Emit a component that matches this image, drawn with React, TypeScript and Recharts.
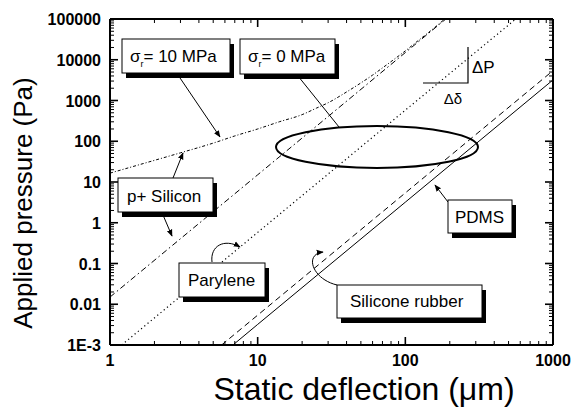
import { LineChart, Line, XAxis, YAxis } from 'recharts'

// axis ticks
const xMajor = [1, 10, 100, 1000]
const yMajor = [0.001, 0.01, 0.1, 1, 10, 100, 1000, 10000, 100000]
const yTickLabels = ['1E-3', '0.01', '0.1', '1', '10', '100', '1000', '10000', '100000']

// p+ silicon, residual stress 10 MPa
const sig10Defl = [1, 2, 3, 5, 7, 10, 14, 20, 25, 30, 40, 50, 60, 70, 85, 100, 120, 150, 185]
const sig10Press = [16.5, 34, 52, 90, 135, 200, 300, 450, 650, 880, 1620, 2700, 4200, 6300, 10600, 16500, 28000, 53000, 100000]
// p+ silicon, residual stress 0 MPa
const sig0Defl = [1, 10, 100, 188]
const sig0Press = [0.015, 15, 15000, 100000]
// parylene
const paryDefl = [1.2, 10, 100, 560]
const paryPress = [0.001, 0.58, 580, 100000]
// silicone rubber
const rubberDefl = [5.7, 10, 100, 1000]
const rubberPress = [0.001, 0.0054, 5.4, 5400]
// PDMS
const pdmsDefl = [6.8, 10, 100, 1000]
const pdmsPress = [0.001, 0.0032, 3.2, 3200]

const pairs = (d: number[], p: number[]) => d.map((v, i) => ({ d: v, p: p[i] }))

const withMinors = (majors: number[]) => {
  const out: number[] = []
  majors.slice(0, -1).forEach((m) => {
    for (let k = 1; k < 10; k++) out.push(+(m * k).toPrecision(6))
  })
  out.push(majors[majors.length - 1])
  return out
}
const xTicks = withMinors(xMajor)
const yTicks = withMinors(yMajor)

const isMajor = (v: number) => Math.abs(Math.log10(v) - Math.round(Math.log10(v))) < 1e-6
const yLabel = (v: number) => yTickLabels[Math.round(Math.log10(v)) + 3]

const BottomTick = (props: any) => {
  const { x, y, payload } = props
  const major = isMajor(payload.value)
  return (
    <g>
      <line x1={x} x2={x} y1={y} y2={y - (major ? 8 : 4)} stroke="#000" strokeWidth={major ? 1.6 : 1} />
      {major && (
        <text x={x} y={y + 21} textAnchor="middle" fontSize={16} fontWeight="bold" fill="#000">
          {payload.value}
        </text>
      )}
    </g>
  )
}

const TopTick = (props: any) => {
  const { x, y, payload } = props
  const major = isMajor(payload.value)
  return <line x1={x} x2={x} y1={y} y2={y + (major ? 8 : 4)} stroke="#000" strokeWidth={major ? 1.6 : 1} />
}

const LeftTick = (props: any) => {
  const { x, y, payload } = props
  const major = isMajor(payload.value)
  return (
    <g>
      <line x1={x} x2={x + (major ? 8 : 4)} y1={y} y2={y} stroke="#000" strokeWidth={major ? 1.6 : 1} />
      {major && (
        <text x={x - 9} y={y + 6} textAnchor="end" fontSize={16} fontWeight="bold" fill="#000">
          {yLabel(payload.value)}
        </text>
      )}
    </g>
  )
}

const RightTick = (props: any) => {
  const { x, y, payload } = props
  const major = isMajor(payload.value)
  return <line x1={x} x2={x - (major ? 8 : 4)} y1={y} y2={y} stroke="#000" strokeWidth={major ? 1.6 : 1} />
}

const Box = ({ x, y, w, h }: { x: number; y: number; w: number; h: number }) => (
  <g>
    <rect x={x + 4} y={y + 5} width={w} height={h} fill="#000" />
    <rect x={x} y={y} width={w} height={h} fill="#fff" stroke="#000" strokeWidth={1} />
  </g>
)

const axisLine = { stroke: '#000', strokeWidth: 2 }

export default function App() {
  return (
    <div
      style={{
        position: 'absolute',
        left: 0,
        top: 0,
        width: 574,
        height: 408,
        background: '#fff',
        fontFamily: '"Liberation Sans", Arial, sans-serif'
      }}
    >
      <LineChart width={574} height={408} margin={{ top: 18, right: 16, bottom: 33, left: 50 }}>
        <XAxis
          xAxisId="bottom"
          dataKey="d"
          type="number"
          scale="log"
          domain={[1, 1000]}
          allowDataOverflow
          ticks={xTicks}
          interval={0}
          tick={<BottomTick />}
          tickLine={false}
          tickSize={0}
          tickMargin={0}
          axisLine={axisLine}
          height={30}
        />
        <XAxis
          xAxisId="top"
          orientation="top"
          dataKey="d"
          type="number"
          scale="log"
          domain={[1, 1000]}
          allowDataOverflow
          ticks={xTicks}
          interval={0}
          tick={<TopTick />}
          tickLine={false}
          tickSize={0}
          tickMargin={0}
          axisLine={axisLine}
          height={1}
        />
        <YAxis
          yAxisId="left"
          type="number"
          scale="log"
          domain={[0.001, 100000]}
          allowDataOverflow
          ticks={yTicks}
          interval={0}
          tick={<LeftTick />}
          tickLine={false}
          tickSize={0}
          tickMargin={0}
          axisLine={axisLine}
          width={60}
        />
        <YAxis
          yAxisId="right"
          orientation="right"
          type="number"
          scale="log"
          domain={[0.001, 100000]}
          allowDataOverflow
          ticks={yTicks}
          interval={0}
          tick={<RightTick />}
          tickLine={false}
          tickSize={0}
          tickMargin={0}
          axisLine={axisLine}
          width={5}
        />
        <Line xAxisId="bottom" yAxisId="left" data={pairs(sig10Defl, sig10Press)} dataKey="p" type="monotone"
          stroke="#000" strokeWidth={1} strokeDasharray="3 2 1 2" dot={false} isAnimationActive={false} />
        <Line xAxisId="bottom" yAxisId="left" data={pairs(sig0Defl, sig0Press)} dataKey="p" type="linear"
          stroke="#000" strokeWidth={1} strokeDasharray="6 3 1.5 3" dot={false} isAnimationActive={false} />
        <Line xAxisId="bottom" yAxisId="left" data={pairs(paryDefl, paryPress)} dataKey="p" type="linear"
          stroke="#000" strokeWidth={1.2} strokeDasharray="1.2 3" dot={false} isAnimationActive={false} />
        <Line xAxisId="bottom" yAxisId="left" data={pairs(rubberDefl, rubberPress)} dataKey="p" type="linear"
          stroke="#000" strokeWidth={1} strokeDasharray="6 4" dot={false} isAnimationActive={false} />
        <Line xAxisId="bottom" yAxisId="left" data={pairs(pdmsDefl, pdmsPress)} dataKey="p" type="linear"
          stroke="#000" strokeWidth={1} dot={false} isAnimationActive={false} />
      </LineChart>

      <svg width={574} height={408} style={{ position: 'absolute', left: 0, top: 0, pointerEvents: 'none' }}>
        <defs>
          <marker id="ah" viewBox="0 0 10 10" refX="9" refY="5" markerWidth="7" markerHeight="7" orient="auto-start-reverse">
            <path d="M0,1 L10,5 L0,9 z" fill="#000" />
          </marker>
        </defs>

        {/* axis titles */}
        <text x={364} y={400} textAnchor="middle" fontSize={32} fill="#000">
          Static deflection (μm)
        </text>
        <text x={0} y={0} transform="translate(32,203) rotate(-90)" textAnchor="middle" fontSize={26} fill="#000">
          Applied pressure (Pa)
        </text>

        {/* highlighted region */}
        <ellipse cx={377} cy={147} rx={101} ry={21} fill="none" stroke="#000" strokeWidth={2} />

        {/* slope triangle */}
        <path d="M423,83 L468,83 L468,47" fill="none" stroke="#000" strokeWidth={1.2} />
        <text x={472} y={73} fontSize={17} fill="#000">ΔP</text>
        <text x={453} y={104} textAnchor="middle" fontSize={15} fill="#000">Δδ</text>

        {/* sigma 10 MPa */}
        <line x1={178} y1={75} x2={220} y2={137} stroke="#000" strokeWidth={1} markerEnd="url(#ah)" />
        <Box x={122} y={39} w={108} h={34} />
        <text x={130} y={62} fontSize={17} fill="#000">
          σ<tspan fontSize={9} dx={0} dy={5}>r</tspan>
          <tspan dx={0} dy={-5}>= 10 MPa</tspan>
        </text>

        {/* sigma 0 MPa */}
        <line x1={298} y1={76} x2={339} y2={127} stroke="#000" strokeWidth={1} />
        <Box x={240} y={39} w={95} h={35} />
        <text x={248} y={62} fontSize={17} fill="#000">
          σ<tspan fontSize={9} dx={0} dy={5}>r</tspan>
          <tspan dx={0} dy={-5}>= 0 MPa</tspan>
        </text>

        {/* p+ silicon */}
        <line x1={173} y1={178} x2={183} y2={153} stroke="#000" strokeWidth={1} markerEnd="url(#ah)" />
        <line x1={163} y1={215} x2={172} y2={236} stroke="#000" strokeWidth={1} markerEnd="url(#ah)" />
        <Box x={118} y={178} w={95} h={34} />
        <text x={127} y={202} fontSize={17} fill="#000">p+ Silicon</text>

        {/* parylene */}
        <path d="M212,262 C210,246 224,238 240,247" fill="none" stroke="#000" strokeWidth={1} markerEnd="url(#ah)" />
        <Box x={179} y={263} w={86} h={34} />
        <text x={188} y={286} fontSize={17} fill="#000">Parylene</text>

        {/* silicone rubber */}
        <path d="M337,285 C312,279 304,254 323,252" fill="none" stroke="#000" strokeWidth={1} markerEnd="url(#ah)" />
        <Box x={337} y={285} w={145} h={33} />
        <text x={350} y={307} fontSize={17} fill="#000">Silicone rubber</text>

        {/* PDMS */}
        <line x1={448} y1={202} x2={435} y2={185} stroke="#000" strokeWidth={1} markerEnd="url(#ah)" />
        <Box x={448} y={200} w={64} h={33} />
        <text x={455} y={223} fontSize={17} fill="#000">PDMS</text>
      </svg>
    </div>
  )
}
